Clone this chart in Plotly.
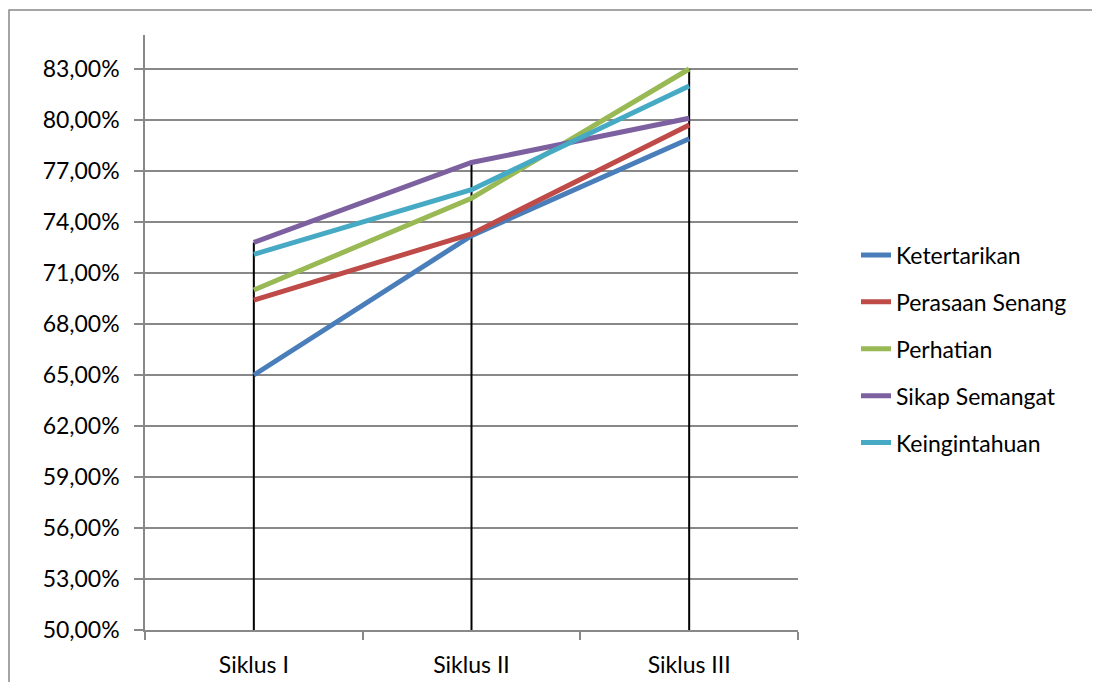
import plotly.graph_objects as go

categories = ["Siklus I", "Siklus II", "Siklus III"]
series_names = ["Ketertarikan", "Perasaan Senang", "Perhatian", "Sikap Semangat", "Keingintahuan"]
ketertarikan = [65.0, 73.2, 78.9]
perasaan_senang = [69.4, 73.3, 79.7]
perhatian = [70.0, 75.4, 83.0]
sikap_semangat = [72.8, 77.5, 80.1]
keingintahuan = [72.1, 75.9, 82.0]
y_ticks = [50, 53, 56, 59, 62, 65, 68, 71, 74, 77, 80, 83]

all_series = [ketertarikan, perasaan_senang, perhatian, sikap_semangat, keingintahuan]
colors = ["#4A7EBB", "#BE4B48", "#98B954", "#7D60A0", "#46AAC5"]

FONT = "Lato, 'Noto Sans', sans-serif"
fig = go.Figure()

# drop lines (from highest point down to axis)
y_min = y_ticks[0]
for i, c in enumerate(categories):
    top = max(s[i] for s in all_series)
    fig.add_trace(go.Scatter(x=[c, c], y=[y_min, top], mode="lines",
                             line=dict(color="black", width=2),
                             showlegend=False, hoverinfo="skip"))

for name, vals, col in zip(series_names, all_series, colors):
    fig.add_trace(go.Scatter(x=categories, y=vals, mode="lines", name=name,
                             legendgroup=name,
                             line=dict(color=col, width=5)))

# page offset of 8px (body margin) taken into account
L, T = 137, 27
PW, PH = 653, 595
fig.update_layout(
    width=1100, height=682,
    paper_bgcolor="white", plot_bgcolor="white",
    margin=dict(l=L, r=1100 - L - PW, t=T, b=682 - T - PH, autoexpand=False),
    separators=",.",
    font=dict(family=FONT, size=23, color="black"),
    showlegend=True,
    legend=dict(x=(848 - L) / PW, y=(622 - 341) / PH, xanchor="left", yanchor="middle",
                font=dict(size=23), tracegroupgap=14,
                traceorder="grouped", bgcolor="rgba(0,0,0,0)"),
    xaxis=dict(type="category", range=[-0.5, 2.5], showgrid=False, automargin=False,
               showline=True, linecolor="#888888", linewidth=1.5,
               ticks="outside", ticklen=8, tickcolor="#888888", tickwidth=1.5,
               tickson="boundaries", ticklabelstandoff=14,
               tickfont=dict(size=23)),
    yaxis=dict(range=[50, 85], tickvals=y_ticks, automargin=False,
               ticktext=[f"{v:.2f}%".replace(".", ",") for v in y_ticks],
               showgrid=True, gridcolor="#888888", gridwidth=1.5,
               showline=True, linecolor="#888888", linewidth=1.5,
               ticks="outside", ticklen=9, tickcolor="#888888", tickwidth=1.5,
               ticklabelstandoff=10, zeroline=False, tickfont=dict(size=23)),
    shapes=[dict(type="rect", xref="paper", yref="paper",
                 x0=(9 - 145) / PW, x1=(1097 - 145) / PW,
                 y0=-0.2, y1=(630 - 10) / PH,
                 line=dict(color="#888888", width=1.5), fillcolor="rgba(0,0,0,0)")],
)

fig.write_html("out.html")
